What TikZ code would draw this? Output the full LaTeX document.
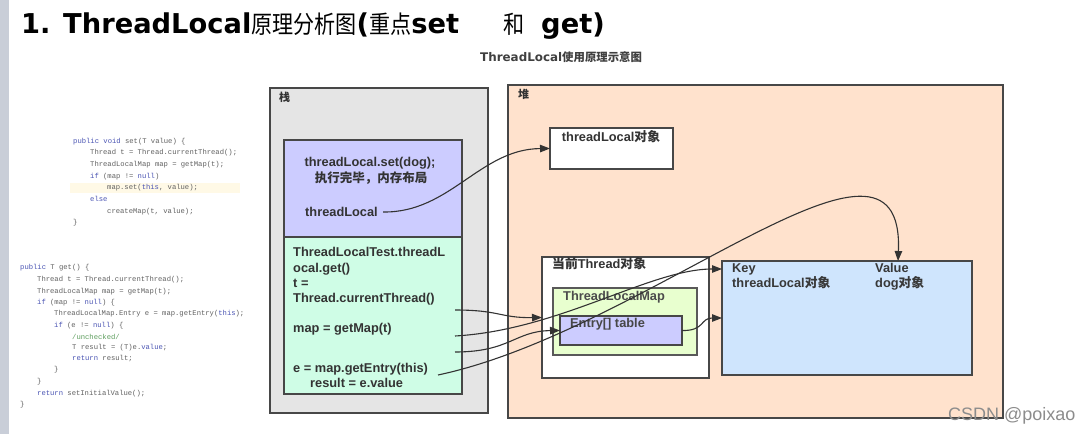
\documentclass[tikz,border=0pt]{standalone}
\usepackage{fontspec}
\usepackage{tikz}
\usetikzlibrary{arrows.meta}
\setmainfont{Liberation Sans}
\newfontfamily\cjk{Noto Sans CJK SC}
\newfontfamily\titlefont{DejaVu Sans}
\newfontfamily\codefont{Liberation Mono}
\definecolor{stripgray}{HTML}{C9CED8}
\definecolor{stackgray}{HTML}{E5E5E5}
\definecolor{setpurple}{HTML}{CCCCFF}
\definecolor{getgreen}{HTML}{CFFDE6}
\definecolor{heappeach}{HTML}{FFE2CD}
\definecolor{mapgreen}{HTML}{E8FFCF}
\definecolor{kvblue}{HTML}{CFE5FD}
\definecolor{kwblue}{HTML}{4B55B4}
\definecolor{cmtgreen}{HTML}{5E9E5E}
\definecolor{hlyellow}{HTML}{FFF9E6}
\newcommand{\jkw}[1]{\textcolor{kwblue}{#1}}
\newcommand{\titlecjk}[1]{\scalebox{0.86}[1]{\cjk\fontsize{24.5}{27}\selectfont #1}}

\begin{document}
\begin{tikzpicture}[x=1pt,y=-1pt,
	box/.style={draw=black!72,line width=1.1pt,anchor=north west,inner sep=0pt,outer sep=0pt},
	txt/.style={font=\fontsize{12.8}{15}\selectfont\bfseries,text=black!80,inner sep=0pt},
	code/.style={font=\codefont\fontsize{7.2}{8}\selectfont,text=black!62,anchor=base west,inner sep=0pt},
	conn/.style={draw=black!80,line width=1.1pt,-{Triangle[length=10pt,width=7.5pt]}}]
		%%%%% START %%%%%
		
		\fill[white] (0,0) rectangle (1092,434);
		\useasboundingbox (0,0) rectangle (1092,434);
		\fill[stripgray] (0,0) rectangle (9,434);
		
		% title
		\node[anchor=base west,inner sep=0pt] (title) at (21,33) {%
			{\titlefont\bfseries\fontsize{27.3}{30}\selectfont 1. ThreadLocal}%
			\titlecjk{原理分析图}%
			{\titlefont\bfseries\fontsize{27.3}{30}\selectfont (}%
			\titlecjk{重点}%
			{\titlefont\bfseries\fontsize{27.3}{30}\selectfont set}\hspace{44pt}%
			\titlecjk{和}\hspace{17pt}%
			{\titlefont\bfseries\fontsize{27.3}{30}\selectfont get)}};
		\node[anchor=base west,inner sep=0pt,text=black!75] (subtitle) at (480,61.5) {%
			{\titlefont\bfseries\fontsize{11.9}{13}\selectfont ThreadLocal}%
			{\cjk\bfseries\fontsize{11.4}{13}\selectfont 使用原理示意图}};
		
		% set() source
		\fill[hlyellow] (70,182.5) rectangle (240,192.5);
		\node[code] (set1) at (73,143) {\jkw{public void} set(T value) \{};
		\node[code] (set2) at (90,154.6) {Thread t = Thread.currentThread();};
		\node[code] (set3) at (90,166.3) {ThreadLocalMap map = getMap(t);};
		\node[code] (set4) at (90,178) {\jkw{if} (map != \jkw{null})};
		\node[code] (set5) at (107,189.6) {map.set(\jkw{this}, value);};
		\node[code] (set6) at (90,201.3) {\jkw{else}};
		\node[code] (set7) at (107,213) {createMap(t, value);};
		\node[code] (set8) at (73,224) {\}};
		
		% get() source
		\node[code] (get1) at (20,269.6) {\jkw{public} T get() \{};
		\node[code] (get2) at (37,281.3) {Thread t = Thread.currentThread();};
		\node[code] (get3) at (37,293) {ThreadLocalMap map = getMap(t);};
		\node[code] (get4) at (37,304.6) {\jkw{if} (map != \jkw{null}) \{};
		\node[code] (get5) at (54,315.6) {ThreadLocalMap.Entry e = map.getEntry(\jkw{this});};
		\node[code] (get6) at (54,327) {\jkw{if} (e != \jkw{null}) \{};
		\node[code,text=cmtgreen] (get7) at (72,339) {/unchecked/};
		\node[code] (get8) at (72,349.6) {T result = (T)e.\jkw{value};};
		\node[code] (get9) at (72,360.6) {\jkw{return} result;};
		\node[code] (get10) at (54,371.6) {\}};
		\node[code] (get11) at (37,383.3) {\}};
		\node[code] (get12) at (37,395) {\jkw{return} setInitialValue();};
		\node[code] (get13) at (20,406.3) {\}};
		
		% stack
		\node[box,fill=stackgray,minimum width=218pt,minimum height=325pt] (stack) at (270,88) {};
		\node[txt,anchor=base west] (stacklbl) at (279,101.5) {\cjk\bfseries\fontsize{11}{12}\selectfont 栈};
		\node[box,fill=setpurple,minimum width=178pt,minimum height=97pt] (setbox) at (284,140) {};
		\node[box,fill=getgreen,minimum width=178pt,minimum height=157pt] (getbox) at (284,237) {};
		
		\node[txt,anchor=base] (setcall) at (370,166.6) {threadLocal.set(dog);};
		\node[txt,anchor=base] (setdone) at (371,182.5) {\cjk\bfseries\fontsize{12.5}{15}\selectfont 执行完毕，内存布局};
		\node[txt,anchor=base west] (tlvar) at (305,216.6) {threadLocal};
		
		\node[txt,anchor=base west] (getl1) at (293,256.6) {ThreadLocalTest.threadL};
		\node[txt,anchor=base west] (getl2) at (293,272.6) {ocal.get()};
		\node[txt,anchor=base west] (getl3) at (293,287.6) {t =};
		\node[txt,anchor=base west] (getl4) at (293,302.6) {Thread.currentThread()};
		\node[txt,anchor=base west] (getl5) at (293,332.6) {map = getMap(t)};
		\node[txt,anchor=base west] (getl6) at (293,372.6) {e = map.getEntry(this)};
		\node[txt,anchor=base west] (getl7) at (310,387.6) {result = e.value};
		
		% heap
		\node[box,fill=heappeach,minimum width=495pt,minimum height=333pt] (heap) at (508,85) {};
		\node[txt,anchor=base west] (heaplbl) at (518,98.5) {\cjk\bfseries\fontsize{11}{12}\selectfont 堆};
		\node[box,fill=white,minimum width=123pt,minimum height=41pt] (tlobj) at (550,128) {};
		\node[txt,anchor=base] (tlobjlbl) at (611,141.6) {threadLocal{\cjk 对象}};
		
		\node[box,fill=white,minimum width=167pt,minimum height=121pt] (thread) at (542,257) {};
		\node[txt,anchor=base west] (threadlbl) at (552,268.6) {{\cjk 当前}Thread{\cjk 对象}};
		\node[box,fill=mapgreen,draw=black!65,minimum width=144pt,minimum height=67pt] (tlmap) at (553,288) {};
		\node[txt,anchor=base west,text=black!70] (tlmaplbl) at (563,300.6) {ThreadLocalMap};
		\node[box,fill=setpurple,minimum width=122pt,minimum height=29pt] (entry) at (560,316) {};
		\node[txt,anchor=base west,text=black!72] (entrylbl) at (570,327.6) {Entry[] table};
		
		\node[box,fill=kvblue,minimum width=250pt,minimum height=114pt] (kv) at (722,261) {};
		\node[txt,anchor=base west,text=black!78] (keylbl) at (732,272.6) {Key};
		\node[txt,anchor=base west,text=black!78] (keyval) at (732,287.6) {threadLocal{\cjk 对象}};
		\node[txt,anchor=base west,text=black!78] (vallbl) at (875,272.6) {Value};
		\node[txt,anchor=base west,text=black!78] (valval) at (875,287.6) {dog{\cjk 对象}};
		
		% references
		\coordinate (tlref) at (383,212);
		\coordinate (p1) at (455,310);
		\coordinate (p2) at (455,336);
		\coordinate (p3) at (455,352);
		\coordinate (p4) at (438,375);
		
		\draw[conn] (tlref) .. controls (450,213) and (480,149) .. (tlobj.west);
		\draw[conn] (p1) .. controls (500,310) and (500,318) .. (thread.west);
		\draw[conn] (p2) .. controls (560,330) and (650,269) .. ([yshift=-8pt]kv.north west);
		\draw[conn] (p3) .. controls (510,352) and (515,331) .. (entry.west);
		\draw[conn] (p4) .. controls (650,330) and (905,90) .. ([xshift=51pt]kv.north);
		\draw[conn] (entry.east) .. controls (705,331) and (700,318) .. (kv.west);
		
		\node[anchor=base west,inner sep=0pt,text=black!45,font=\fontsize{18}{20}\selectfont] (mark) at (948,420) {CSDN @poixao};
		
		%%%%% END %%%%%
\end{tikzpicture}
\end{document}
